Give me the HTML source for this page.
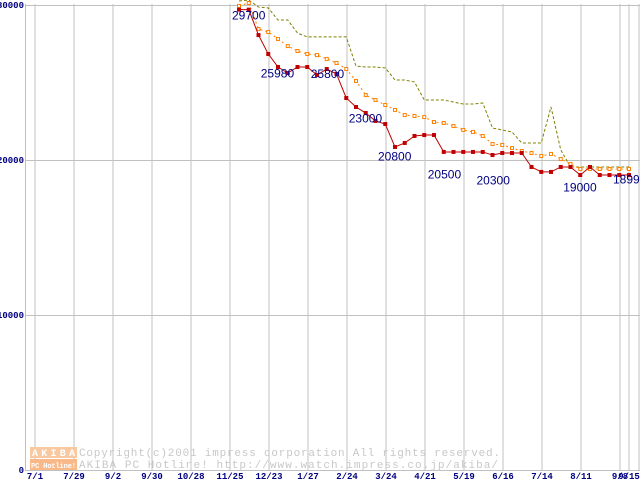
<!DOCTYPE html>
<html><head><meta charset="utf-8"><style>
body{margin:0;background:#fff;}
svg{display:block;font-family:"Liberation Mono",monospace;}
</style></head><body>
<svg width="640" height="480" xmlns="http://www.w3.org/2000/svg">
<g id="grid"></g>
<g id="wm">
 <rect x="30" y="447" width="47" height="11" fill="#f8c8a0"/>
 <rect x="30" y="459" width="47" height="11" fill="#f8b888"/>
 <text x="32" y="456" font-size="10" font-weight="bold" fill="#fff" textLength="43">AKIBA</text>
 <text x="31" y="468" font-size="7" font-weight="bold" fill="#fff" textLength="45">PC Hotline!</text>
 <text x="79" y="456" font-size="11" fill="#c8c8c8" textLength="421">Copyright(c)2001 impress corporation All rights reserved.</text>
 <text x="79" y="468" font-size="11" fill="#c8c8c8" textLength="419">AKIBA PC Hotline!  http://www.watch.impress.co.jp/akiba/</text>
</g>
<g id="series"></g>
<g id="labels"></g>
</svg>
<script>
const xLabels=["7/1","7/29","9/2","9/30","10/28","11/25","12/23","1/27","2/24","3/24","4/21","5/19","6/16","7/14","8/11","9/8","9/15"];
const yTicks=[0,10000,20000,30000];
const red=[29700,29700,28060,26840,26000,25610,26000,26000,25480,25870,25550,24000,23420,23030,22520,22320,20840,21100,21550,21610,21610,20520,20520,20520,20520,20520,20320,20450,20450,20450,19550,19230,19230,19550,19550,19030,19550,19030,19030,19030,19030];
const orange=[29940,30130,28450,28260,27810,27350,27030,26840,26770,26520,26260,25870,25100,24190,23870,23550,23230,22900,22840,22770,22450,22390,22190,21940,21810,21550,21030,20970,20770,20580,20450,20260,20390,20060,19740,19420,19420,19420,19420,19420,19420];
const olive=[30260,30320,29870,29810,29030,29030,28190,27940,27940,27940,27940,27940,26060,26000,26000,25940,25160,25160,25030,23870,23870,23870,23740,23610,23610,23680,22060,21940,21810,21100,21100,21100,23420,20650,19550,19550,19550,19550,19550,19550,19550];
const callouts=[[0,29700,"29700"],[5,25980,"25980"],[9,25800,"25800"],[13,23000,"23000"],[16,20800,"20800"],[21,20500,"20500"],[26,20300,"20300"],[35,19000,"19000"],[40,18999,"18999"]];
const calloutOff=[[-7,10],[-27,10],[-16,8],[-17,9],[-17,13],[-16,26],[-16,29],[-17,16],[-16,8]];
const NS="http://www.w3.org/2000/svg";
const yS=v=>470-v*0.0155;
const xS=i=>239+i*9.75;
const gx=i=>i<16?35+i*39:629;
function mk(t,a,p){const e=document.createElementNS(NS,t);for(const k in a)e.setAttribute(k,a[k]);p.appendChild(e);return e;}
const grid=document.getElementById('grid');
xLabels.forEach((l,i)=>{
 const ln=mk('line',{x1:gx(i),x2:gx(i),y1:4,y2:471,stroke:'#c0c0c0'},grid);
 
 
 const t=mk('text',{x:gx(i),y:479,'font-size':9,'font-weight':'bold',fill:'#000080','text-anchor':'middle'},grid);
 t.textContent=l;
 
 
});
const rb=mk('line',{x1:639,x2:639,y1:4,y2:471,stroke:'#c0c0c0'},grid);


yTicks.forEach(v=>{
 const ln=mk('line',{x1:25,x2:640,y1:yS(v)+0.5,y2:yS(v)+0.5,stroke:'#c0c0c0'},grid);
 
 
 const t=mk('text',{x:24,y:yS(v)+3,'font-size':9,'font-weight':'bold',fill:'#000080','text-anchor':'end'},grid);
 t.textContent=String(v);
 
 
});
const ax=mk('line',{x1:25.5,x2:25.5,y1:4,y2:471,stroke:'#c0c0c0'},grid);


const S=document.getElementById('series');
function pts(a){return a.map((v,i)=>xS(i)+','+yS(v)).join(' ');}
const po=mk('polyline',{points:pts(olive),fill:'none',stroke:'#808000','stroke-dasharray':'3,2'},S);


const pr=mk('polyline',{points:pts(orange),fill:'none',stroke:'#ff8000','stroke-dasharray':'2,3'},S);


orange.forEach((v,i)=>{
 const r=mk('rect',{x:xS(i)-1.5,y:yS(v)-1.5,width:3,height:3,fill:'#fff',stroke:'#ff8000'},S);
 
 
});
const pd=mk('polyline',{points:pts(red),fill:'none',stroke:'#c00000'},S);


red.forEach((v,i)=>{
 const r=mk('rect',{x:xS(i)-2,y:yS(v)-2,width:4,height:4,fill:'#c00000'},S);
 
 
});
const L=document.getElementById('labels');
callouts.forEach((c,k)=>{
 const t=mk('text',{x:xS(c[0])+calloutOff[k][0],y:yS(c[1])+calloutOff[k][1],'font-size':12,fill:'#000080','font-family':'Liberation Sans, sans-serif'},L);
 t.textContent=c[2];
 
 
});
</script>
</body></html>
